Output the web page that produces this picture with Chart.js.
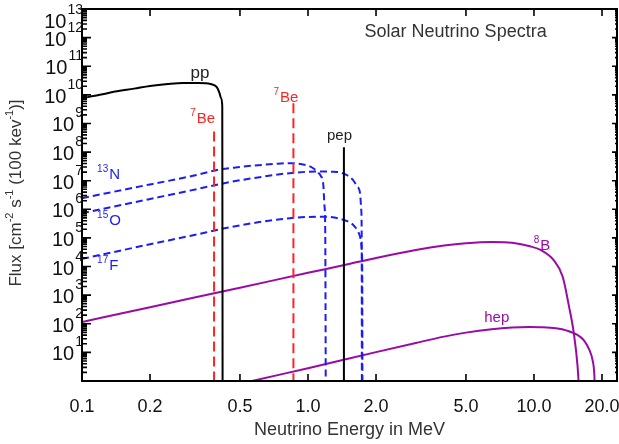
<!DOCTYPE html>
<html lang="en">
<head>
<meta charset="UTF-8">
<title>Solar Neutrino Spectra</title>
<style>
    * { margin: 0; padding: 0; box-sizing: border-box; }
    body { background: #fff; }
    .chart-box { width: 619px; height: 444px; position: relative; }
</style>
</head>
<body>
<div class="chart-box"><canvas id="nuChart"></canvas></div>

<script src="https://cdn.jsdelivr.net/npm/chart.js"></script>
<script>
// energy in MeV, flux in cm^-2 s^-1 (100 keV)^-1
const ppE   = [0.1, 0.12, 0.14, 0.17, 0.2, 0.24, 0.28, 0.33, 0.37, 0.395, 0.406, 0.413, 0.4175, 0.419];
const ppF   = [7.6e9, 1.0e10, 1.3e10, 1.65e10, 2.05e10, 2.4e10, 2.6e10, 2.6e10, 2.4e10, 1.85e10, 1.15e10, 7.5e9, 4e9, 0.1];

const n13E  = [0.1, 0.2, 0.3, 0.41, 0.5, 0.58, 0.7, 0.83, 0.95, 1.025, 1.07, 1.11, 1.137, 1.17, 1.182, 1.192, 1.199];
const n13F  = [2.45e6, 7.4e6, 1.4e7, 2.5e7, 3.0e7, 3.4e7, 3.8e7, 4.1e7, 3.7e7, 3.1e7, 2.5e7, 1.9e7, 1.5e7, 6.6e6, 1.4e6, 2e5, 0.1];

const o15E  = [0.1, 0.2, 0.3, 0.45, 0.6, 0.81, 1.1, 1.3, 1.43, 1.58, 1.65, 1.70, 1.72, 1.728, 1.732];
const o15F  = [7.3e5, 2.3e6, 4.5e6, 8.9e6, 1.3e7, 1.8e7, 2.1e7, 2.05e7, 1.8e7, 1.07e7, 6.3e6, 3.6e6, 1.0e6, 1.5e5, 0.1];

const f17E  = [0.1, 0.2, 0.3, 0.45, 0.6, 0.83, 1.0, 1.19, 1.43, 1.61, 1.70, 1.73, 1.738, 1.742];
const f17F  = [1.85e4, 6.0e4, 1.17e5, 2.36e5, 3.5e5, 4.9e5, 5.4e5, 5.5e5, 4.3e5, 2.5e5, 1.1e5, 3.8e4, 5e3, 0.1];

const b8E   = [0.1, 0.2, 0.5, 1.0, 1.5, 2.0, 3.0, 4.0, 5.0, 6.5, 8.0, 9.5, 10.7, 12.2, 13.4, 14.3, 15.0, 15.6, 16.0];
const b8F   = [115, 380, 1820, 6030, 1.2e4, 2.0e4, 3.8e4, 5.4e4, 6.5e4, 7.2e4, 6.8e4, 5.2e4, 3.8e4, 1.7e4, 4.4e3, 390, 48, 3.1, 0.1];

const hepE  = [0.5, 0.565, 1.0, 2.0, 3.0, 4.0, 5.0, 6.5, 8.0, 9.5, 11, 12.5, 14, 15.5, 16.6, 17.5, 18.2, 18.5, 18.7];
const hepF  = [0.79, 1.0, 2.8, 10.2, 21.4, 35.5, 49, 64.6, 74, 77.6, 75.9, 69.2, 57.5, 41.7, 26.9, 13.2, 5.0, 1.58, 0.1];

// line sources: energy and top of the line
const be7aE = [0.384, 0.384],  be7aF = [5.2e8, 0.1];
const be7bE = [0.862, 0.862],  be7bF = [5.1e9, 0.1];
const pepE  = [1.442, 1.442],  pepF  = [1.48e8, 0.1];

const xTicks      = [0.1, 0.2, 0.5, 1, 2, 5, 10, 20];
const xTickLabels = ['0.1', '0.2', '0.5', '1.0', '2.0', '5.0', '10.0', '20.0'];
const yExponents  = [1, 2, 3, 4, 5, 6, 7, 8, 9, 10, 11, 12, 13];

const FONT = '"Liberation Sans", Arial, Helvetica, sans-serif';
const RED = '#ff2424', BLUE = '#1c1cf5', PURPLE = '#9a0aa6';

// curve labels: text, superscript prefix, anchor (E, flux), colour, align
const curveLabels = [
    { t: 'pp',  sup: '',   e: 0.333,  f: 3.9e10, c: '#222', align: 'center', size: 17 },
    { t: 'Be',  sup: '7',  e: 0.301,  f: 1.05e9, c: RED,    align: 'left',   size: 15 },
    { t: 'Be',  sup: '7',  e: 0.703,  f: 5.7e9,  c: RED,    align: 'left',   size: 15 },
    { t: 'pep', sup: '',   e: 1.378,  f: 2.67e8, c: '#222', align: 'center', size: 15 },
    { t: 'N',   sup: '13', e: 0.1166, f: 1.16e7, c: BLUE,   align: 'left',   size: 15 },
    { t: 'O',   sup: '15', e: 0.1166, f: 2.85e5, c: BLUE,   align: 'left',   size: 15 },
    { t: 'F',   sup: '17', e: 0.1166, f: 7.6e3,  c: BLUE,   align: 'left',   size: 15 },
    { t: 'B',   sup: '8',  e: 9.98,   f: 3.8e4,  c: PURPLE, align: 'left',   size: 15 },
    { t: 'hep', sup: '',   e: 6.84,   f: 116,    c: PURPLE, align: 'center', size: 15 }
];

const pts = (xs, ys) => xs.map((x, i) => ({ x: x, y: ys[i] }));

function curve(label, xs, ys, color, dash) {
    return {
        label: label,
        data: pts(xs, ys),
        borderColor: color,
        borderWidth: 2,
        borderDash: dash || [],
        pointRadius: 0,
        fill: false,
        cubicInterpolationMode: 'monotone'
    };
}

function srcLine(label, xs, ys, color, dash) {
    return {
        label: label,
        data: pts(xs, ys),
        borderColor: color,
        borderWidth: 2,
        borderDash: dash || [],
        pointRadius: 0,
        fill: false,
        tension: 0
    };
}

const decor = {
    id: 'decor',
    afterDatasetsDraw(chart) {
        const { ctx, chartArea: a } = chart;
        const xs = chart.scales.x, ys = chart.scales.y;
        ctx.save();

        // inward tick marks
        ctx.strokeStyle = '#000';
        ctx.lineWidth = 1.6;
        ctx.beginPath();
        for (let e = 0; e < 13; e++) {
            for (let m = 1; m < 10; m++) {
                const py = ys.getPixelForValue(m * Math.pow(10, e));
                const L = m === 1 ? 9 : 5, R = m === 1 ? 5 : 2;
                ctx.moveTo(a.left, py);  ctx.lineTo(a.left + L, py);
                ctx.moveTo(a.right, py); ctx.lineTo(a.right - R, py);
            }
        }
        xTicks.forEach(v => {
            const px = xs.getPixelForValue(v);
            ctx.moveTo(px, a.bottom); ctx.lineTo(px, a.bottom - 7);
            ctx.moveTo(px, a.top);    ctx.lineTo(px, a.top + 7);
        });
        ctx.stroke();

        ctx.lineWidth = 2;
        ctx.strokeRect(a.left, a.top, a.right - a.left, a.bottom - a.top);

        // y tick labels 10^n
        ctx.fillStyle = '#111';
        ctx.textBaseline = 'alphabetic';
        yExponents.forEach(n => {
            const py = ys.getPixelForValue(Math.pow(10, n));
            const dy = n === 13 ? 11 : 0;
            ctx.font = '14px ' + FONT;
            ctx.textAlign = 'right';
            const w = ctx.measureText(String(n)).width;
            ctx.fillText(String(n), a.left + 1, py - 6 + dy);
            ctx.font = '20px ' + FONT;
            ctx.fillText('10', a.left - w, py + 8 + dy);
        });

        // y axis title
        const parts = [
            ['Flux [cm', 0], ['-2', 1], [' s', 0], ['-1', 1], [' (100 kev', 0], ['-1', 1], [')]', 0]
        ];
        ctx.save();
        ctx.translate(16, 193);
        ctx.rotate(-Math.PI / 2);
        ctx.fillStyle = '#333';
        ctx.textAlign = 'left';
        ctx.textBaseline = 'middle';
        let total = 0;
        parts.forEach(p => {
            ctx.font = (p[1] ? '11px ' : '17px ') + FONT;
            total += ctx.measureText(p[0]).width;
        });
        let cx = -total / 2;
        parts.forEach(p => {
            ctx.font = (p[1] ? '11px ' : '17px ') + FONT;
            ctx.fillText(p[0], cx, p[1] ? -6 : 0);
            cx += ctx.measureText(p[0]).width;
        });
        ctx.restore();

        // title
        ctx.font = '18px ' + FONT;
        ctx.fillStyle = '#333';
        ctx.textAlign = 'center';
        ctx.fillText('Solar Neutrino Spectra', xs.getPixelForValue(4.5), ys.getPixelForValue(1.07e12));

        // curve labels
        curveLabels.forEach(l => {
            const px = xs.getPixelForValue(l.e), py = ys.getPixelForValue(l.f);
            ctx.fillStyle = l.c;
            ctx.font = l.size + 'px ' + FONT;
            const wMain = ctx.measureText(l.t).width;
            ctx.font = '10px ' + FONT;
            const wSup = l.sup ? ctx.measureText(l.sup).width + 1 : 0;
            let x0 = l.align === 'center' ? px - (wMain + wSup) / 2 : px;
            ctx.textAlign = 'left';
            if (l.sup) ctx.fillText(l.sup, x0, py - 7);
            ctx.font = l.size + 'px ' + FONT;
            ctx.fillText(l.t, x0 + wSup, py);
        });

        ctx.restore();
    }
};

new Chart(document.getElementById('nuChart'), {
    type: 'line',
    data: {
        datasets: [
            curve('pp', ppE, ppF, '#000'),
            srcLine('7Be 0.384', be7aE, be7aF, RED, [10, 5]),
            srcLine('7Be 0.862', be7bE, be7bF, RED, [10, 5]),
            srcLine('pep', pepE, pepF, '#000'),
            curve('13N', n13E, n13F, BLUE, [7, 4]),
            curve('15O', o15E, o15F, BLUE, [7, 4]),
            curve('17F', f17E, f17F, BLUE, [7, 4]),
            curve('8B', b8E, b8F, PURPLE),
            curve('hep', hepE, hepF, PURPLE)
        ]
    },
    options: {
        responsive: true,
        maintainAspectRatio: false,
        animation: false,
        layout: { padding: { top: 9, right: 2, left: 0, bottom: 0 } },
        plugins: { legend: { display: false }, tooltip: { enabled: false } },
        scales: {
            x: {
                type: 'logarithmic',
                min: 0.1,
                max: 23.3,
                afterFit: s => { s.height = 63; s.paddingLeft = 0; s.paddingRight = 0; },
                afterBuildTicks: s => { s.ticks = xTicks.map(v => ({ value: v })); },
                ticks: {
                    autoSkip: false,
                    maxRotation: 0,
                    padding: 15,
                    color: '#111',
                    font: { family: FONT, size: 18 },
                    callback: (v, i) => xTickLabels[i]
                },
                grid: { display: false, drawTicks: false },
                border: { display: false },
                title: {
                    display: true,
                    text: 'Neutrino Energy in MeV',
                    color: '#333',
                    font: { family: FONT, size: 18 },
                    padding: { top: 0, bottom: 3 }
                }
            },
            y: {
                type: 'logarithmic',
                min: 1,
                max: 1e13,
                afterFit: s => { s.width = 82; s.paddingTop = 0; s.paddingBottom = 0; },
                ticks: { display: false },
                grid: { display: false, drawTicks: false },
                border: { display: false }
            }
        }
    },
    plugins: [decor]
});
</script>
</body>
</html>
